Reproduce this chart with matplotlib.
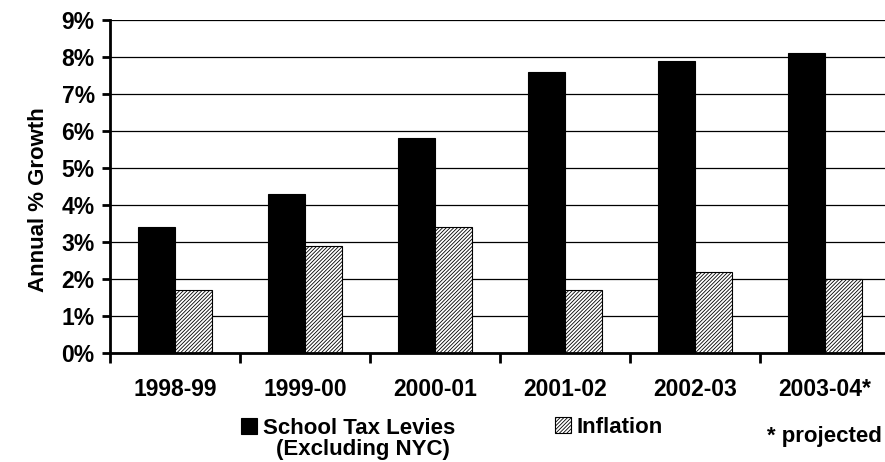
import matplotlib
matplotlib.use('Agg')
import matplotlib.pyplot as plt
from matplotlib.patches import Rectangle
from matplotlib.ticker import FuncFormatter, MultipleLocator
import numpy as np

plt.rcParams['font.family'] = ['Liberation Sans', 'DejaVu Sans']
plt.rcParams['font.weight'] = 'bold'
plt.rcParams['hatch.linewidth'] = 0.6
plt.rcParams['hatch.color'] = '#444444'

years = ['1998-99', '1999-00', '2000-01', '2001-02', '2002-03', '2003-04*']
school_tax = [3.4, 4.3, 5.8, 7.6, 7.9, 8.1]
inflation = [1.7, 2.9, 3.4, 1.7, 2.2, 2.0]

W, H = 885, 462
fig = plt.figure(figsize=(W / 100, H / 100), dpi=100)
# axes box in pixels: x 110..890 (right edge runs off the image), y 20..353
ax = fig.add_axes([110 / W, 1 - 353 / H, 780 / W, 333 / H])

x = np.arange(len(years))
bw = 0.285
HATCH = '/////////'
ax.bar(x - bw / 2, school_tax, bw, color='black', edgecolor='black', linewidth=0.8, zorder=3)
ax.bar(x + bw / 2, inflation, bw, color='white', edgecolor='black', linewidth=0.8,
       hatch=HATCH, zorder=3)

ax.set_xlim(-0.5, len(years) - 0.5)
ax.set_ylim(0, 9)
ax.yaxis.set_major_locator(MultipleLocator(1))
ax.yaxis.set_major_formatter(FuncFormatter(lambda v, p: f'{v:.0f}%'))
ax.grid(axis='y', color='black', linewidth=0.9, zorder=0)
ax.set_axisbelow(True)

# category boundaries carry the ticks, labels sit at the centres
ax.set_xticks(np.arange(len(years) + 1) - 0.5)
ax.set_xticklabels([])
ax.set_xticks(x, minor=True)
ax.set_xticklabels(years, minor=True, fontsize=16.5, fontweight='bold')
ax.tick_params(axis='x', which='major', direction='out', length=7, width=2)
ax.tick_params(axis='x', which='minor', length=0, pad=18)
ax.tick_params(axis='y', direction='out', length=6, width=2, pad=5, labelsize=16.5)
for lbl in ax.get_yticklabels():
    lbl.set_fontweight('bold')

for side in ['top', 'right']:
    ax.spines[side].set_visible(False)
ax.spines['left'].set_linewidth(2)
ax.spines['bottom'].set_linewidth(2)
ax.spines['bottom'].set_zorder(4)

fig.text(39 / W, 1 - 200 / H, 'Annual % Growth', rotation=90, ha='center', va='center',
         fontsize=16, fontweight='bold')

# legend drawn by hand so the swatch lines up with the first text line
fig.add_artist(Rectangle((241 / W, 1 - 434 / H), 16 / W, 16 / H, transform=fig.transFigure,
                         facecolor='black', edgecolor='black', linewidth=0.8))
fig.text(263 / W, 1 - 434 / H, 'School Tax Levies', ha='left', va='baseline',
         fontsize=16, fontweight='bold')
fig.text(363 / W, 1 - 455 / H, '(Excluding NYC)', ha='center', va='baseline',
         fontsize=16, fontweight='bold')
fig.add_artist(Rectangle((555 / W, 1 - 433 / H), 16 / W, 16 / H, transform=fig.transFigure,
                         facecolor='white', edgecolor='black', linewidth=0.8, hatch=HATCH))
fig.text(576 / W, 1 - 433 / H, 'Inflation', ha='left', va='baseline',
         fontsize=16, fontweight='bold')
fig.text(767 / W, 1 - 442 / H, '* projected', ha='left', va='baseline',
         fontsize=16, fontweight='bold')

fig.savefig('out.png', dpi=100)
